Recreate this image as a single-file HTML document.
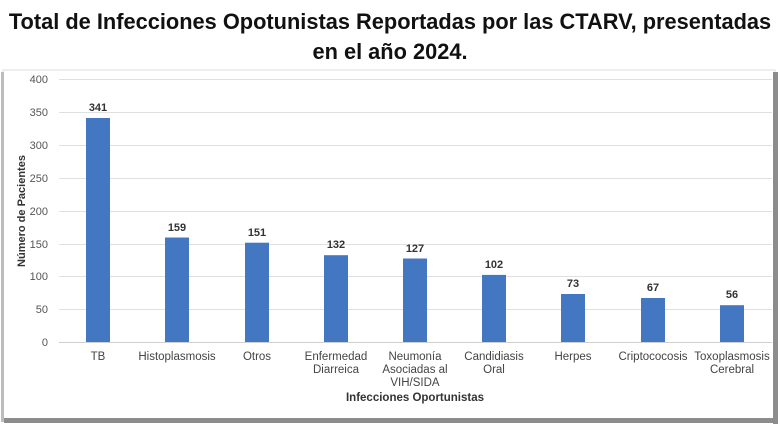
<!DOCTYPE html><html><head><meta charset="utf-8"><style>
body{margin:0;width:780px;height:432px;background:#fff;overflow:hidden;font-family:"Liberation Sans",sans-serif}
</style></head><body>
<svg width="780" height="432" xmlns="http://www.w3.org/2000/svg" font-family="Liberation Sans, sans-serif">
<text x="390" y="29" font-size="21.8" font-weight="bold" text-anchor="middle" fill="#111">Total de Infecciones Opotunistas Reportadas por las CTARV, presentadas</text>
<text x="390" y="59" font-size="21.8" font-weight="bold" text-anchor="middle" fill="#111">en el año 2024.</text>
<rect x="3" y="70" width="772" height="350" fill="#fff" stroke="#dcdcdc" stroke-width="1"/>
<rect x="1" y="72" width="3" height="350" fill="#bdbdbd"/>
<rect x="773" y="72" width="5" height="352" fill="#8c8c8c"/>
<rect x="4" y="418" width="774" height="5" fill="#8c8c8c"/>
<g stroke="#e0e0e0" stroke-width="1">
<line x1="59" x2="772" y1="79.5" y2="79.5"/><line x1="59" x2="772" y1="112.5" y2="112.5"/><line x1="59" x2="772" y1="145.5" y2="145.5"/><line x1="59" x2="772" y1="178.5" y2="178.5"/><line x1="59" x2="772" y1="211.5" y2="211.5"/><line x1="59" x2="772" y1="244.5" y2="244.5"/><line x1="59" x2="772" y1="276.5" y2="276.5"/><line x1="59" x2="772" y1="309.5" y2="309.5"/><line x1="59" x2="772" y1="342.5" y2="342.5" stroke="#cfcfcf"/>
</g>
<g font-size="11" fill="#555" text-anchor="end">
<text x="48" y="83">400</text><text x="48" y="116">350</text><text x="48" y="149">300</text><text x="48" y="182">250</text><text x="48" y="215">200</text><text x="48" y="248">150</text><text x="48" y="280">100</text><text x="48" y="313">50</text><text x="48" y="346">0</text>
</g>
<text transform="translate(25,211) rotate(-90)" font-size="11" font-weight="bold" text-anchor="middle" fill="#333">Número de Pacientes</text>
<g fill="#4477c1">
<rect x="86" y="118" width="24" height="224"/>
<rect x="165" y="237.5" width="24" height="104.5"/>
<rect x="245" y="242.7" width="24" height="99.3"/>
<rect x="324" y="255.2" width="24" height="86.8"/>
<rect x="403" y="258.5" width="24" height="83.5"/>
<rect x="482" y="274.9" width="24" height="67.1"/>
<rect x="561" y="294" width="24" height="48"/>
<rect x="641" y="298" width="24" height="44"/>
<rect x="720" y="305.2" width="24" height="36.8"/>
</g>
<g font-size="11" font-weight="bold" fill="#333" text-anchor="middle">
<text x="98" y="111">341</text><text x="177" y="231">159</text><text x="257" y="236">151</text><text x="336" y="248">132</text><text x="415" y="252">127</text><text x="494" y="268">102</text><text x="573" y="287">73</text><text x="653" y="291">67</text><text x="732" y="298">56</text>
</g>
<g font-size="11.5" fill="#444" text-anchor="middle">
<text x="98" y="360">TB</text><text x="177" y="360">Histoplasmosis</text><text x="257" y="360">Otros</text>
<text x="336" y="360">Enfermedad</text><text x="336" y="373">Diarreica</text>
<text x="415" y="360">Neumonía</text><text x="415" y="373">Asociadas al</text><text x="415" y="386">VIH/SIDA</text>
<text x="494" y="360">Candidiasis</text><text x="494" y="373">Oral</text>
<text x="573" y="360">Herpes</text><text x="653" y="360">Criptococosis</text>
<text x="732" y="360">Toxoplasmosis</text><text x="732" y="373">Cerebral</text>
</g>
<text x="415" y="401" font-size="11.5" font-weight="bold" text-anchor="middle" fill="#333">Infecciones Oportunistas</text>
</svg>
</body></html>
